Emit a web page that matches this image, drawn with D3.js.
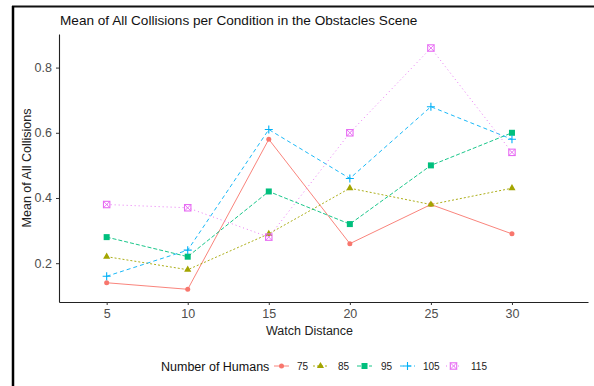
<!DOCTYPE html>
<html>
<head>
<meta charset="utf-8">
<script src="https://cdn.jsdelivr.net/npm/d3@7"></script>
<style>
html,body{margin:0;padding:0;background:#fff;}
svg{display:block;font-family:"Liberation Sans",Arial,sans-serif;}
</style>
</head>
<body>
<svg id="chart" width="594" height="386"></svg>
<script>
const watchDistances = [5, 10, 15, 20, 25, 30];
const groups = ["75", "85", "95", "105", "115"];
const values75  = [0.14, 0.12, 0.58, 0.26, 0.38, 0.29];
const values85  = [0.22, 0.18, 0.29, 0.43, 0.38, 0.43];
const values95  = [0.28, 0.22, 0.42, 0.32, 0.50, 0.60];
const values105 = [0.16, 0.24, 0.61, 0.46, 0.68, 0.58];
const values115 = [0.38, 0.37, 0.28, 0.60, 0.86, 0.54];
const yTicks = [0.2, 0.4, 0.6, 0.8];

const seriesValues = [values75, values85, values95, values105, values115];
const colors = ["#F8766D", "#A3A500", "#00BF7D", "#00B0F6", "#E76BF3"];
const dashes = [null, "2,2", "4,2", "4,3", "1,3"];
const shapes = ["circle", "triangle", "square", "plus", "squarecross"];

const svg = d3.select("#chart");

// frame lines of the screenshot
svg.append("line").attr("x1", 12).attr("x2", 594).attr("y1", 6.5).attr("y2", 6.5)
  .attr("stroke", "#111").attr("stroke-width", 2);
svg.append("line").attr("x1", 13).attr("x2", 13).attr("y1", 6).attr("y2", 386)
  .attr("stroke", "#000").attr("stroke-width", 2.5);

const x = d3.scaleLinear().domain([2.06, 34.69]).range([59, 588]);
const y = d3.scaleLinear().domain([0.081, 0.903]).range([302, 34]);

// title
svg.append("text").attr("x", 60).attr("y", 25)
  .attr("font-size", 13.6).attr("fill", "#111")
  .text("Mean of All Collisions per Condition in the Obstacles Scene");

// axes
const xAxis = svg.append("g").attr("transform", "translate(0,302)")
  .call(d3.axisBottom(x).tickValues(watchDistances).tickSize(3).tickSizeOuter(0).tickPadding(4).tickFormat(d3.format("d")));
const yAxis = svg.append("g").attr("transform", "translate(59,0)")
  .call(d3.axisLeft(y).tickValues(yTicks).tickSize(3).tickSizeOuter(0).tickPadding(4).tickFormat(d3.format(".1f")));
[xAxis, yAxis].forEach(a => {
  a.select(".domain").attr("stroke", "#222").attr("stroke-width", 1.1);
  a.selectAll(".tick line").attr("stroke", "#333");
  a.selectAll(".tick text").attr("fill", "#4D4D4D").attr("font-size", 12.5)
    .attr("font-family", "Liberation Sans, Arial, sans-serif");
});

// axis titles
svg.append("text").attr("x", 309.5).attr("y", 335).attr("text-anchor", "middle")
  .attr("font-size", 12.5).attr("fill", "#222").text("Watch Distance");
svg.append("text").attr("transform", "translate(31,168) rotate(-90)").attr("text-anchor", "middle")
  .attr("font-size", 12.5).attr("fill", "#222").text("Mean of All Collisions");

function drawShape(g, shape, cx, cy, color) {
  if (shape === "circle") {
    g.append("circle").attr("cx", cx).attr("cy", cy).attr("r", 2.5).attr("fill", color);
  } else if (shape === "triangle") {
    g.append("path").attr("transform", `translate(${cx},${cy})`)
      .attr("d", d3.symbol(d3.symbolTriangle, 22)()).attr("fill", color);
  } else if (shape === "square") {
    g.append("rect").attr("x", cx - 3).attr("y", cy - 3).attr("width", 6).attr("height", 6).attr("fill", color);
  } else if (shape === "plus") {
    g.append("path").attr("d", `M${cx-4},${cy}H${cx+4}M${cx},${cy-4}V${cy+4}`)
      .attr("stroke", color).attr("stroke-width", 1.1).attr("fill", "none");
  } else {
    g.append("rect").attr("x", cx - 3.2).attr("y", cy - 3.2).attr("width", 6.4).attr("height", 6.4)
      .attr("stroke", color).attr("stroke-width", 1.1).attr("fill", "none");
    g.append("path").attr("d", `M${cx-3.2},${cy-3.2}L${cx+3.2},${cy+3.2}M${cx-3.2},${cy+3.2}L${cx+3.2},${cy-3.2}`)
      .attr("stroke", color).attr("stroke-width", 0.9).attr("fill", "none");
  }
}

const line = d3.line().x((d, i) => x(watchDistances[i])).y(d => y(d));
const plot = svg.append("g");
seriesValues.forEach((vals, k) => {
  plot.append("path").datum(vals).attr("d", line).attr("fill", "none")
    .attr("stroke", colors[k]).attr("stroke-width", 0.9)
    .attr("stroke-dasharray", dashes[k]);
});
seriesValues.forEach((vals, k) => {
  const g = plot.append("g");
  vals.forEach((v, i) => drawShape(g, shapes[k], x(watchDistances[i]), y(v), colors[k]));
});

// legend
const ly = 366;
svg.append("text").attr("x", 161).attr("y", ly + 4.5).attr("font-size", 12.5).attr("fill", "#111")
  .text("Number of Humans");
const keyX = [274, 313, 357, 400, 446];
const labX = [297, 338, 381, 423, 471];
groups.forEach((gname, k) => {
  const g = svg.append("g");
  g.append("line").attr("x1", keyX[k]).attr("x2", keyX[k] + 15).attr("y1", ly).attr("y2", ly)
    .attr("stroke", colors[k]).attr("stroke-width", 0.9).attr("stroke-dasharray", dashes[k]);
  drawShape(g, shapes[k], keyX[k] + 7.5, ly, colors[k]);
  svg.append("text").attr("x", labX[k]).attr("y", ly + 3.5).attr("font-size", 10).attr("fill", "#222").text(gname);
});
</script>
</body>
</html>
